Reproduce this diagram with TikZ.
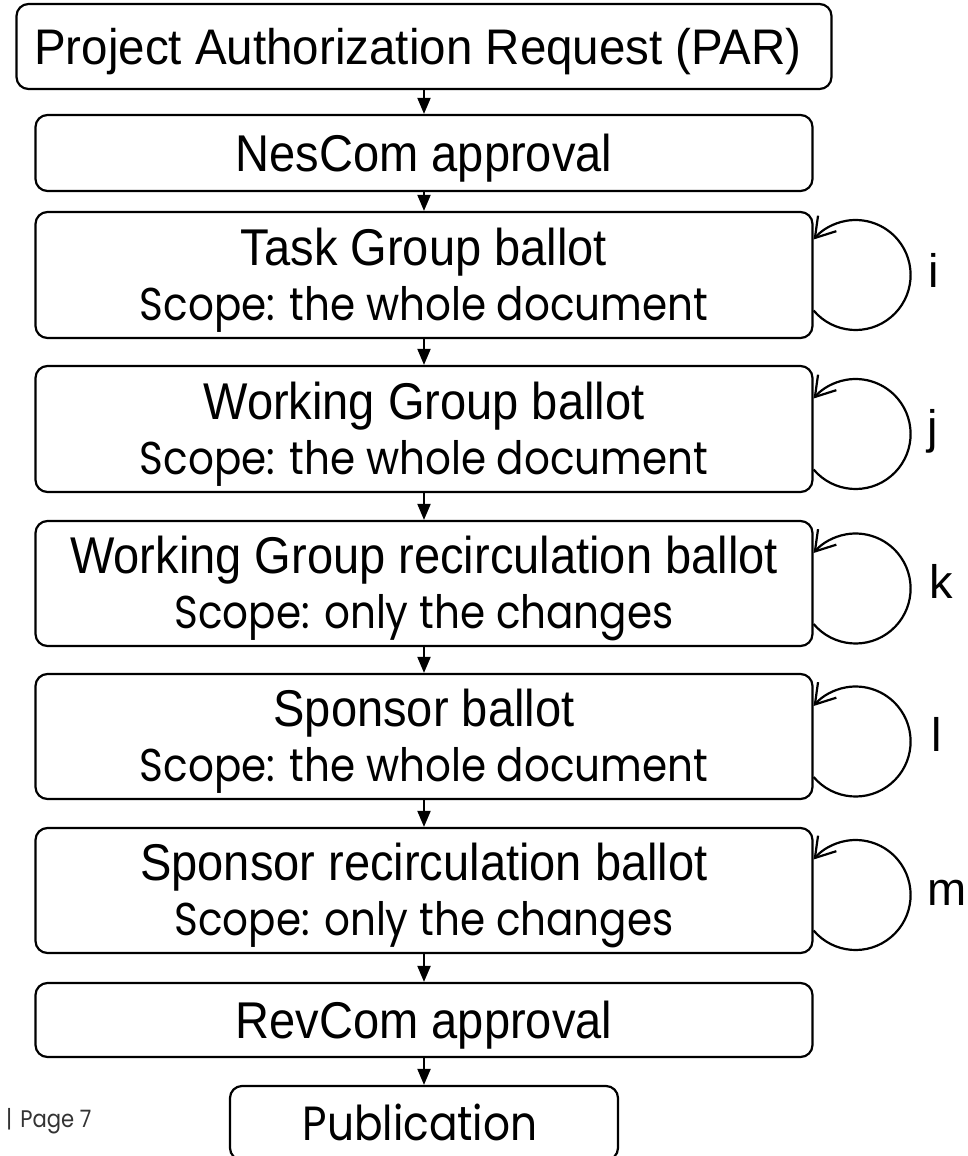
\documentclass[tikz,border=0pt]{standalone}
\usepackage{fontspec}
\setmainfont{Liberation Sans}
\newfontfamily\ttlfont[FakeStretch=0.91]{Liberation Sans}
\newfontfamily\parfont[FakeStretch=0.95]{Liberation Sans}
\newfontfamily\lblfont{Liberation Sans}
\newfontfamily\scpfont[FakeStretch=0.88]{Poppins}
\usetikzlibrary{arrows.meta}
\begin{document}
\begin{tikzpicture}[x=1pt,y=-1pt,
  box/.style={draw, line width=2.2pt, rounded corners=12pt, inner sep=0pt, minimum width=777pt},
  ttl/.style={font=\ttlfont\fontsize{51.7}{60}\selectfont, inner sep=0pt, anchor=base},
  scp/.style={font=\scpfont\fontsize{46}{52}\selectfont, inner sep=0pt, anchor=base},
  lbl/.style={font=\lblfont\fontsize{47}{55}\selectfont, inner sep=0pt, anchor=base west},
  flow/.style={line width=2pt, -{Triangle[length=16pt,width=13pt]}},
  loopar/.style={line width=2.2pt, -{Straight Barb[length=19pt,width=24pt]}},
]
\useasboundingbox (0,0) rectangle (967,1156);
% boxes
\node[box, minimum width=815pt, minimum height=85pt] (par) at (424,46.5) {};
\node[box, minimum height=76pt] (nes) at (424,153) {};
\node[box, minimum height=126pt] (tg) at (424,275) {};
\node[box, minimum height=126pt] (wg) at (424,429) {};
\node[box, minimum height=125pt] (wgr) at (424,583.5) {};
\node[box, minimum height=125pt] (sb) at (424,736.5) {};
\node[box, minimum height=125pt] (sr) at (424,890.5) {};
\node[box, minimum height=74pt] (rev) at (424,1020) {};
\node[box, minimum width=388pt, minimum height=74pt] (pub) at (424,1123) {};
% texts
\node[font=\parfont\fontsize{50}{58}\selectfont, inner sep=0pt, anchor=base] (parT) at (418,65) {Project Authorization Request (PAR)};
\node[ttl] (nesT) at (424,171) {NesCom approval};
\node[ttl] (tgT) at (424,265) {Task Group ballot};
\node[scp] (tgS) at (424,320) {Scope: the whole document};
\node[ttl] (wgT) at (424,419) {Working Group ballot};
\node[scp] (wgS) at (424,474) {Scope: the whole document};
\node[ttl] (wgrT) at (424,573) {Working Group recirculation ballot};
\node[scp] (wgrS) at (424,628) {Scope: only the changes};
\node[ttl] (sbT) at (424,726) {Sponsor ballot};
\node[scp] (sbS) at (424,781) {Scope: the whole document};
\node[ttl] (srT) at (424,880) {Sponsor recirculation ballot};
\node[scp] (srS) at (424,935) {Scope: only the changes};
\node[ttl] (revT) at (424,1038) {RevCom approval};
\node[font=\scpfont\fontsize{48}{56}\selectfont, inner sep=0pt, anchor=base] (pubT) at (420,1140) {Publication};
\node[font=\scpfont\fontsize{24}{28}\selectfont, inner sep=0pt, anchor=base west, text=black!80] (page) at (6,1127) {|\,\,Page 7};
% flow arrows
\draw[flow] (par.south) -- (nes.north);
\draw[flow] (nes.south) -- (tg.north);
\draw[flow] (tg.south) -- (wg.north);
\draw[flow] (wg.south) -- (wgr.north);
\draw[flow] (wgr.south) -- (sb.north);
\draw[flow] (sb.south) -- (sr.north);
\draw[flow] (sr.south) -- (rev.north);
\draw[flow] (rev.south) -- (pub.north);
% loops
\draw[loopar] ([yshift=-35.5pt]tg.east) arc[start angle=-139.8, end angle=139.8, radius=55pt];
\draw[loopar] ([yshift=-40.5pt]wg.east) arc[start angle=-139.8, end angle=139.8, radius=55pt];
\draw[loopar] ([yshift=-40.5pt]wgr.east) arc[start angle=-139.8, end angle=139.8, radius=55pt];
\draw[loopar] ([yshift=-40.5pt]sb.east) arc[start angle=-139.8, end angle=139.8, radius=55pt];
\draw[loopar] ([yshift=-40pt]sr.east) arc[start angle=-139.8, end angle=139.8, radius=55pt];
% labels
\node[lbl] (li) at (928,287) {i};
\node[lbl] (lj) at (927,443) {j};
\node[lbl] (lk) at (929,598) {k};
\node[lbl] (ll) at (931,751) {l};
\node[lbl] (lm) at (927,905) {m};
\end{tikzpicture}
\end{document}
